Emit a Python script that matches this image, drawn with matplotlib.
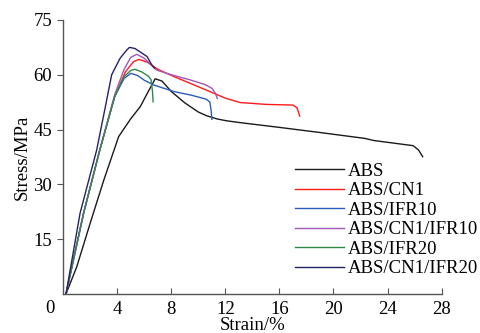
import matplotlib.pyplot as plt

plt.rcParams['font.family'] = ['Liberation Serif', 'DejaVu Serif']

# Strain (%) / Stress (MPa)
abs_x = [0.2, 1.0, 2.0, 3.0, 4.1, 5.0, 5.7, 6.3, 6.8, 7.3, 8.0, 9.0, 10.0, 10.6, 11.4, 12.1, 13.1, 16.0, 19.0, 22.3, 23.0, 25.9, 26.3, 26.6]
abs_y = [0.0, 7.5, 19.5, 31.2, 43.1, 48.0, 51.3, 55.5, 58.9, 58.3, 55.4, 52.3, 49.8, 48.8, 47.9, 47.4, 46.9, 45.6, 44.2, 42.6, 42.0, 40.6, 39.4, 37.6]

cn1_x = [0.2, 1.5, 2.7, 3.8, 4.6, 5.2, 5.6, 6.2, 7.0, 8.2, 9.5, 10.6, 12.0, 13.1, 15.0, 17.0, 17.3, 17.5]
cn1_y = [0.0, 22.1, 39.4, 54.0, 60.8, 63.6, 64.2, 63.5, 61.5, 59.5, 57.5, 55.8, 53.6, 52.4, 51.9, 51.7, 51.0, 48.7]

ifr10_x = [0.2, 1.5, 2.7, 3.8, 4.5, 5.0, 5.5, 6.0, 6.7, 8.2, 9.5, 10.6, 10.85, 10.95, 11.0]
ifr10_y = [0.0, 22.1, 39.4, 54.0, 59.0, 60.4, 59.8, 58.5, 57.2, 55.4, 54.4, 53.3, 52.5, 50.0, 47.8]

cn1ifr10_x = [0.2, 1.5, 2.7, 3.8, 4.5, 5.0, 5.45, 6.0, 6.9, 8.0, 9.4, 10.5, 11.0, 11.25, 11.4]
cn1ifr10_y = [0.0, 22.1, 39.4, 54.5, 61.5, 64.8, 65.6, 64.5, 61.3, 60.0, 58.6, 57.3, 56.3, 55.0, 53.5]

ifr20_x = [0.2, 1.5, 2.7, 3.8, 4.5, 5.0, 5.3, 5.8, 6.3, 6.5, 6.6, 6.65]
ifr20_y = [0.0, 22.1, 39.4, 54.0, 59.5, 61.2, 61.5, 60.8, 59.6, 58.6, 55.5, 52.6]

cn1ifr20_x = [0.2, 1.24, 2.47, 3.1, 3.58, 4.2, 4.7, 4.9, 5.3, 6.2, 6.55, 6.75]
cn1ifr20_y = [0.0, 22.1, 39.4, 51.0, 60.0, 64.5, 66.8, 67.5, 67.2, 65.0, 62.7, 61.8]

series = [
    (abs_x, abs_y, "ABS", "#1a1a1a"),
    (cn1_x, cn1_y, "ABS/CN1", "#ff1a1a"),
    (ifr10_x, ifr10_y, "ABS/IFR10", "#2a5db8"),
    (cn1ifr10_x, cn1ifr10_y, "ABS/CN1/IFR10", "#a455b8"),
    (ifr20_x, ifr20_y, "ABS/IFR20", "#2f8a45"),
    (cn1ifr20_x, cn1ifr20_y, "ABS/CN1/IFR20", "#22226a"),
]

fig = plt.figure(figsize=(4.81, 3.33), dpi=100)
ax = fig.add_axes([0.1316, 0.1171, 0.7864, 0.8229])

for x, y, name, color in series:
    ax.plot(x, y, color=color, lw=1.0, label=name)

ax.set_xlim(0, 28)
ax.set_ylim(0, 75)
ax.set_xticks([4, 8, 12, 16, 20, 24, 28])
ax.set_yticks([15, 30, 45, 60, 75])
ax.spines['top'].set_visible(False)
ax.spines['right'].set_visible(False)
for s in ('left', 'bottom'):
    ax.spines[s].set_color('#555555')
    ax.spines[s].set_linewidth(1.0)
ax.tick_params(axis='x', direction='in', length=4, color='#555555', labelsize=13.5, pad=5)
ax.tick_params(axis='y', direction='out', length=4, color='#555555', labelsize=13.5, pad=4)
ax.text(-0.035, -0.022, "0", transform=ax.transAxes, fontsize=13.5, ha='center', va='top')

ax.set_xlabel("Strain/%", fontsize=13.5, labelpad=-1)
ax.set_ylabel("Stress/MPa", fontsize=13.5, labelpad=2)

ax.legend(loc='upper left', bbox_to_anchor=(0.613, 0.48), frameon=False, fontsize=13.5,
          handlelength=2.6, handletextpad=0.2, labelspacing=0.13, borderpad=0.0, borderaxespad=0.0)

fig.savefig("out.png", dpi=100)
